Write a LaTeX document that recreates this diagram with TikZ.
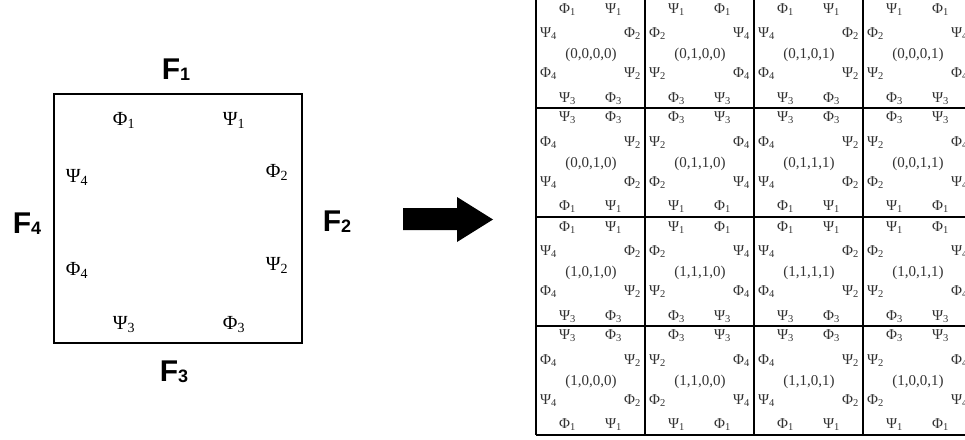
\documentclass[tikz,border=0pt]{standalone}
\usepackage{fontspec}
\setmainfont{Liberation Serif}
\newfontfamily\arialfont{Liberation Sans}
\usepackage{tikz}

% one cell of the grid: column, row, tuple
\newcommand{\gridcell}[3]{%
  \pgfmathsetmacro{\hs}{1-2*mod(#1,2)}%
  \pgfmathsetmacro{\vs}{1-2*mod(#2,2)}%
  \begin{scope}[shift={(590.5+109*#1,53.5+109*#2)}, xscale=\hs, yscale=\vs]
    \node [sym] (c#2#1-p1) at (-23,-44) {Φ\textsubscript{1}};
    \node [sym] (c#2#1-s1) at (23,-44) {Ψ\textsubscript{1}};
    \node [sym] (c#2#1-s4) at (-42,-20) {Ψ\textsubscript{4}};
    \node [sym] (c#2#1-p2) at (42,-20) {Φ\textsubscript{2}};
    \node [sym] (c#2#1-p4) at (-42,20) {Φ\textsubscript{4}};
    \node [sym] (c#2#1-s2) at (42,20) {Ψ\textsubscript{2}};
    \node [sym] (c#2#1-s3) at (-23,45) {Ψ\textsubscript{3}};
    \node [sym] (c#2#1-p3) at (23,45) {Φ\textsubscript{3}};
  \end{scope}
  \node [tuple] (c#2#1) at (591+109*#1,54.5+109*#2) {#3};
}

\begin{document}
\begin{tikzpicture}[x=1pt, y=-1pt]
			\tikzstyle{sym} = [inner sep=0pt, text=black!80, font=\fontsize{15}{18}\selectfont]
			\tikzstyle{tuple} = [inner sep=0pt, text=black!80, font=\fontsize{15}{18}\selectfont]
			\tikzstyle{bigsym} = [inner sep=0pt, anchor=base, font=\fontsize{20}{24}\selectfont]
			\tikzstyle{face} = [inner sep=0pt, anchor=base, font=\arialfont\bfseries\fontsize{30}{36}\selectfont]
			\tikzstyle{frame} = [draw=black, line width=1.6pt, minimum width=248pt, minimum height=249pt]
			\tikzstyle{gridline} = [draw=black, line width=2.6pt]

			\useasboundingbox (0,0) rectangle (965,439);
			\clip (0,0) rectangle (965,439);

			% the square with its faces
			\node [frame] (sq) at (178,218.5) {};

			\node [face] (f1) at (176,79) {F\raisebox{-1.5pt}{\fontsize{18}{20}\selectfont 1}};
			\node [face] (f2) at (337,231) {F\raisebox{-1.5pt}{\fontsize{18}{20}\selectfont 2}};
			\node [face] (f3) at (174,381) {F\raisebox{-1.5pt}{\fontsize{18}{20}\selectfont 3}};
			\node [face] (f4) at (27,233) {F\raisebox{-1.5pt}{\fontsize{18}{20}\selectfont 4}};

			\node [bigsym] (p1) at (124,125) {Φ\textsubscript{1}};
			\node [bigsym] (s1) at (234,125) {Ψ\textsubscript{1}};
			\node [bigsym] (s4) at (77,182) {Ψ\textsubscript{4}};
			\node [bigsym] (p2) at (277,177) {Φ\textsubscript{2}};
			\node [bigsym] (p4) at (77,275) {Φ\textsubscript{4}};
			\node [bigsym] (s2) at (277,270) {Ψ\textsubscript{2}};
			\node [bigsym] (s3) at (124,329) {Ψ\textsubscript{3}};
			\node [bigsym] (p3) at (234,329) {Φ\textsubscript{3}};

			% the big arrow
			\fill (403,208) -- (457,208) -- (457,197) -- (493,219.5) -- (457,242) -- (457,230) -- (403,230) -- cycle;

			% the grid of cells
			\foreach \i in {0,...,4} {
				\draw [gridline] (536+109*\i,-1) -- (536+109*\i,435);
				\draw [gridline] (536,-1+109*\i) -- (972,-1+109*\i);
			}

			\gridcell{0}{0}{(0,0,0,0)}
			\gridcell{1}{0}{(0,1,0,0)}
			\gridcell{2}{0}{(0,1,0,1)}
			\gridcell{3}{0}{(0,0,0,1)}

			\gridcell{0}{1}{(0,0,1,0)}
			\gridcell{1}{1}{(0,1,1,0)}
			\gridcell{2}{1}{(0,1,1,1)}
			\gridcell{3}{1}{(0,0,1,1)}

			\gridcell{0}{2}{(1,0,1,0)}
			\gridcell{1}{2}{(1,1,1,0)}
			\gridcell{2}{2}{(1,1,1,1)}
			\gridcell{3}{2}{(1,0,1,1)}

			\gridcell{0}{3}{(1,0,0,0)}
			\gridcell{1}{3}{(1,1,0,0)}
			\gridcell{2}{3}{(1,1,0,1)}
			\gridcell{3}{3}{(1,0,0,1)}
\end{tikzpicture}
\end{document}
